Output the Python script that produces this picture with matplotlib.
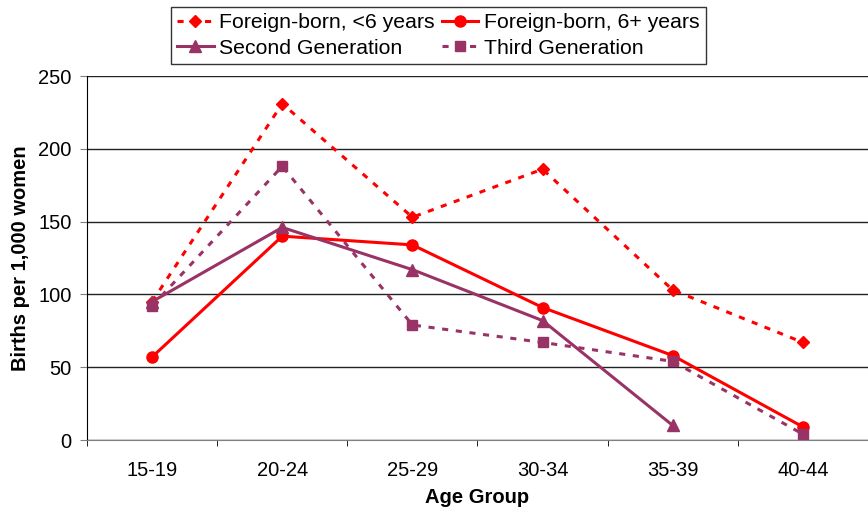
import matplotlib
matplotlib.use("Agg")
import matplotlib.pyplot as plt
import numpy as np

plt.rcParams['font.family'] = ['Liberation Sans', 'DejaVu Sans']

age_groups = ["15-19", "20-24", "25-29", "30-34", "35-39", "40-44"]
foreign_lt6 = [95, 231, 153, 186, 103, 67]
foreign_6plus = [57, 140, 134, 91, 58, 9]
second_gen = [95, 146, 117, 82, 10]
third_gen = [92, 188, 79, 67, 54, 4]

red = "#FF0000"
purple = "#993366"
fs = 14.5

fig = plt.figure(figsize=(8.68, 5.11), dpi=100)
ax = fig.add_axes([87 / 868, 71 / 511, 1 - 87 / 868, 364 / 511])

x = np.arange(len(age_groups))
l1, = ax.plot(x, foreign_lt6, color=red, lw=2.2, ls=(0, (2, 2.5)), marker="D",
              ms=6.5, label="Foreign-born, <6 years")
l2, = ax.plot(x, foreign_6plus, color=red, lw=2.2, marker="o", ms=8,
              label="Foreign-born, 6+ years")
l3, = ax.plot(x[:len(second_gen)], second_gen, color=purple, lw=2.2, marker="^",
              ms=8, label="Second Generation")
l4, = ax.plot(x, third_gen, color=purple, lw=2.2, ls=(0, (2, 2.5)), marker="s",
              ms=7, label="Third Generation")

ax.set_ylim(0, 250)
ax.set_xlim(-0.5, 5.46)
ax.set_yticks(range(0, 251, 50))
ax.yaxis.grid(True, color="#222222", lw=1)
ax.set_axisbelow(True)
ax.tick_params(axis="y", labelsize=fs, direction="out", length=5, color="gray", pad=6)

ax.set_xticks(x)
ax.set_xticklabels(age_groups, fontsize=fs)
ax.tick_params(axis="x", which="major", length=0, pad=15)
ax.set_xticks(np.arange(-0.5, 5.6, 1), minor=True)
ax.tick_params(axis="x", which="minor", length=4, direction="out", color="black")

for s in ["top", "right"]:
    ax.spines[s].set_visible(False)
ax.spines["left"].set_color("black")
ax.spines["bottom"].set_color("gray")

ax.set_ylabel("Births per 1,000 women", fontsize=fs, fontweight="bold", labelpad=6)
ax.set_xlabel("Age Group", fontsize=fs, fontweight="bold", labelpad=6)

leg = fig.legend(handles=[l1, l3, l2, l4], ncol=2, loc="upper left",
                 bbox_to_anchor=(171 / 868, 1 - 7 / 511), fontsize=15.3,
                 frameon=True, fancybox=False, edgecolor="black",
                 handlelength=1.7, handletextpad=0.24, columnspacing=0.38,
                 labelspacing=0.3, borderpad=0.3, borderaxespad=0)
leg.get_frame().set_linewidth(1)

fig.savefig("out.png", dpi=100)
